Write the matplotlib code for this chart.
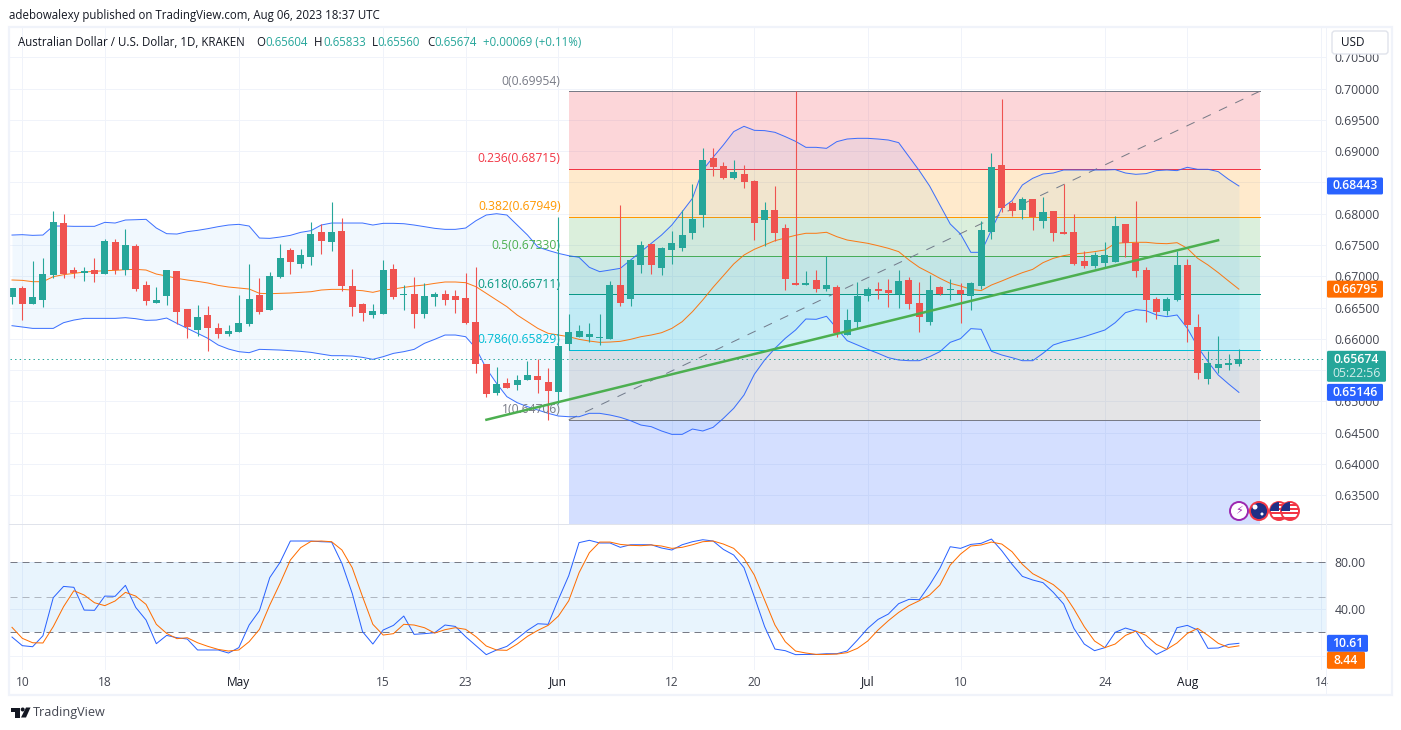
import numpy as np
import matplotlib
matplotlib.use("Agg")
import matplotlib.pyplot as plt
from matplotlib.patches import FancyBboxPatch, Rectangle, Circle, Polygon
from matplotlib.transforms import Affine2D

W, H = 1401, 730
FONT = "Open Sans"
plt.rcParams["font.family"] = [FONT, "DejaVu Sans"]

# ---------- price data ----------
opens = [
 .66669,.66813,.66557,.66621,.67020,.67851,.67100,.67058,.67100,.67036,
 .67548,.67100,.67484,.66861,.66573,.66685,.67084,.66477,.66142,.66381,
 .66174,.66078,.66110,.66238,.66701,.66461,.66988,.67420,.67196,.67308,
 .67707,.67548,.67723,.66845,.66552,.66381,.66397,.67116,.66701,.66717,
 .66397,.66669,.66717,.66685,.66653,.66270,.65599,.65135,.65295,.65263,
 .65343,.65407,.65311,.65151,.65918,.66030,.66030,.66019,.65998,.66861,
 .66637,.67180,.67516,.67132,.67420,.67452,.67692,.67979,.68890,.68762,
 .68570,.68634,.68523,.67900,.68059,.67772,.66893,.66861,.66941,.66797,
 .66829,.66062,.66270,.66685,.66797,.66781,.66712,.66941,.66574,.66270,
 .66829,.66781,.66781,.66685,.66845,.67708,.68778,.68171,.68059,.68235,
 .67884,.68043,.67708,.67708,.67244,.67165,.67213,.67229,.67836,.67532,
 .67101,.66637,.66446,.66622,.67181,.66190,.65360,.65535,.65583,.65604]
highs = [
 .66813,.66845,.67244,.67292,.68043,.67995,.67148,.67148,.67292,.67595,
 .67595,.67755,.67516,.66925,.66829,.67100,.67084,.66477,.66541,.66525,
 .66254,.66222,.66701,.67196,.66972,.67068,.67516,.67452,.67436,.67867,
 .67835,.68187,.67931,.67116,.66573,.66557,.67260,.67196,.66861,.66988,
 .66893,.66749,.66781,.66781,.67052,.67148,.65599,.65551,.65375,.65423,
 .65647,.65678,.65535,.67947,.66397,.66222,.66254,.66397,.66925,.68139,
 .67260,.67564,.67516,.67468,.67723,.68059,.68475,.69050,.69050,.68826,
 .68858,.68778,.68539,.68187,.68443,.67836,.69954,.67085,.67101,.67324,
 .66861,.66478,.66909,.66829,.66909,.66957,.67101,.66989,.66909,.67021,
 .66845,.66957,.66893,.66909,.67884,.68970,.69832,.68203,.68267,.68235,
 .68267,.68043,.68475,.67995,.67404,.67388,.67548,.67963,.67836,.68203,
 .67149,.66669,.66669,.67404,.67276,.66398,.65807,.66046,.65759,.65833]
lows = [
 .66557,.66301,.66557,.66509,.66972,.66972,.66972,.66925,.66909,.67036,
 .67036,.67020,.66765,.66541,.66568,.66541,.66238,.66014,.66046,.65806,
 .66014,.66046,.66110,.66206,.66397,.66461,.66972,.67036,.67132,.67180,
 .67356,.67404,.66765,.66365,.66286,.66333,.66397,.66637,.66461,.66174,
 .66333,.66525,.66541,.66413,.66238,.65455,.65071,.65103,.65215,.65183,
 .65343,.65135,.64704,.64960,.65822,.66030,.65950,.65902,.65998,.66525,
 .66525,.67052,.67036,.67020,.67196,.67404,.67596,.67788,.68602,.68554,
 .68554,.68411,.67580,.67484,.67564,.66781,.66861,.66861,.66749,.66765,
 .66030,.66062,.66174,.66606,.66637,.66510,.66494,.66478,.66110,.66222,
 .66701,.66622,.66254,.66462,.66797,.67596,.68027,.67963,.67915,.67740,
 .67772,.67564,.67676,.67181,.67133,.67133,.67149,.67229,.67308,.66989,
 .66270,.66318,.66382,.66606,.65951,.65360,.65280,.65455,.65503,.65560]
closes = [
 .66813,.66557,.66669,.67036,.67867,.67036,.67047,.67084,.67036,.67564,
 .67100,.67500,.66797,.66605,.66621,.67100,.66429,.66190,.66349,.66174,
 .66078,.66126,.66254,.66637,.66429,.67004,.67292,.67228,.67340,.67675,
 .67564,.67707,.66845,.66509,.66413,.66445,.67100,.66669,.66717,.66397,
 .66685,.66717,.66621,.66621,.66254,.65599,.65119,.65279,.65215,.65343,
 .65423,.65343,.65167,.65886,.66110,.66126,.66078,.66035,.66861,.66573,
 .67260,.67500,.67180,.67452,.67532,.67659,.67915,.68858,.68746,.68570,
 .68666,.68507,.67852,.68059,.67692,.66957,.66861,.66893,.66797,.66861,
 .66094,.66302,.66685,.66797,.66765,.66733,.66925,.66558,.66350,.66781,
 .66717,.66797,.66717,.66893,.67740,.68746,.68091,.68043,.68235,.67947,
 .68027,.67692,.67676,.67197,.67165,.67340,.67340,.67804,.67532,.67085,
 .66622,.66430,.66637,.67181,.66222,.65455,.65615,.65599,.65615,.65674]

bb_upper = [
 .67659,.67665,.67654,.67659,.67803,.67803,.67798,.67798,.67798,.67862,
 .67851,.67899,.67904,.67910,.67771,.67681,.67675,.67713,.67734,.67761,
 .67793,.67819,.67830,.67803,.67611,.67606,.67627,.67654,.67702,.67729,
 .67819,.67851,.67851,.67851,.67851,.67819,.67846,.67846,.67840,.67819,
 .67793,.67766,.67750,.67750,.67771,.67888,.67979,.68000,.67979,.67819,
 .67659,.67468,.67414,.67366,.67329,.67303,.67143,.67074,.67100,.67127,
 .67260,.67393,.67526,.67659,.67819,.68030,.68246,.68698,.68901,.69098,
 .69311,.69396,.69332,.69327,.69300,.69231,.69156,.69060,.69060,.69044,
 .69151,.69193,.69204,.69204,.69193,.69177,.69135,.68911,.68688,.68443,
 .68139,.67836,.67676,.67383,.67383,.67740,.68091,.68208,.68459,.68565,
 .68634,.68650,.68698,.68698,.68698,.68698,.68698,.68704,.68650,.68629,
 .68640,.68688,.68698,.68688,.68741,.68709,.68709,.68672,.68549,.68443]
bb_basis = [
 .66941,.66935,.66914,.66914,.66994,.67026,.67047,.67068,.67079,.67090,
 .67095,.67106,.67111,.67100,.67036,.67004,.66967,.66941,.66919,.66893,
 .66855,.66829,.66813,.66797,.66728,.66722,.66728,.66733,.66744,.66754,
 .66781,.66791,.66791,.66781,.66770,.66744,.66781,.66797,.66823,.66845,
 .66861,.66887,.66909,.66909,.66898,.66834,.66728,.66621,.66515,.66381,
 .66275,.66168,.66089,.66062,.66035,.65993,.65966,.65945,.65950,.65961,
 .65993,.66035,.66062,.66099,.66168,.66275,.66435,.66622,.66824,.67010,
 .67197,.67340,.67431,.67500,.67569,.67612,.67655,.67687,.67687,.67703,
 .67633,.67580,.67553,.67527,.67489,.67447,.67394,.67260,.67143,.67058,
 .66968,.66888,.66845,.66792,.66771,.66861,.66925,.66994,.67058,.67111,
 .67218,.67287,.67330,.67356,.67372,.67394,.67420,.67527,.67537,.67543,
 .67543,.67527,.67521,.67537,.67447,.67287,.67181,.67058,.66925,.66795]
bb_lower = [
 .66211,.66190,.66168,.66168,.66168,.66259,.66301,.66328,.66328,.66328,
 .66328,.66339,.66323,.66296,.66301,.66333,.66248,.66168,.66089,.66009,
 .65902,.65838,.65796,.65780,.65833,.65828,.65822,.65812,.65801,.65785,
 .65758,.65732,.65732,.65726,.65705,.65673,.65716,.65769,.65796,.65833,
 .65929,.65993,.66062,.66062,.66035,.65849,.65529,.65290,.65077,.64981,
 .64917,.64864,.64811,.64768,.64757,.64757,.64811,.64811,.64784,.64747,
 .64693,.64624,.64598,.64529,.64475,.64475,.64560,.64529,.64587,.64731,
 .64891,.65104,.65434,.65663,.65849,.66009,.66142,.66318,.66313,.66361,
 .66169,.65972,.65903,.65833,.65770,.65700,.65663,.65652,.65652,.65716,
 .65796,.65945,.66004,.66164,.66153,.65802,.65743,.65700,.65652,.65652,
 .65770,.65903,.65956,.65993,.66036,.66089,.66142,.66259,.66419,.66467,
 .66451,.66382,.66355,.66382,.66169,.65876,.65636,.65423,.65280,.65146]

stoch_k = [
 16.0,8.6,7.7,17.1,49.7,59.4,58.6,39.1,38.9,51.1,
 50.9,60.3,41.4,30.6,10.3,17.4,15.4,14.3,4.9,4.9,
 4.9,2.3,6.9,26.3,38.6,66.9,80.0,98.3,98.3,98.3,
 97.7,97.4,79.1,53.4,20.6,10.0,22.0,26.0,34.0,18.3,
 18.9,19.7,26.3,25.1,16.3,8.6,0.9,4.9,8.0,14.6,
 21.7,27.4,26.9,48.3,68.6,96.9,98.9,96.6,96.6,92.9,
 95.1,95.1,95.1,92.3,90.6,95.1,97.7,99.4,98.3,91.1,
 86.3,75.4,50.6,24.9,5.7,4.3,0.9,1.1,1.1,1.7,
 1.7,4.0,13.4,23.4,31.1,35.7,44.6,48.3,48.0,60.6,
 74.9,93.4,92.0,95.4,96.3,100.0,90.0,78.3,68.0,64.9,
 62.6,54.3,44.3,23.4,10.0,4.3,6.9,20.0,23.7,21.1,
 8.6,1.1,5.4,24.0,26.0,22.0,6.3,6.6,9.7,10.61]
stoch_d = [
 24.3,14.9,11.1,10.9,24.9,42.0,55.7,52.0,45.4,42.9,
 46.9,54.3,51.1,44.0,26.9,19.1,14.6,15.4,11.1,8.0,
 5.4,4.0,4.9,12.0,22.6,43.4,62.0,82.0,92.6,98.0,
 98.3,97.7,90.6,75.4,50.6,26.9,17.7,18.9,26.9,26.3,
 24.0,19.4,22.3,24.0,22.6,16.3,8.3,4.9,4.6,10.0,
 16.6,21.7,26.0,34.0,47.1,71.1,88.3,97.4,97.4,95.4,
 94.6,94.3,94.9,94.0,92.0,92.9,95.1,97.7,98.3,95.7,
 92.0,83.4,69.1,47.7,26.3,12.0,4.0,2.3,1.1,1.1,
 1.4,2.6,6.3,12.6,22.0,30.0,37.1,42.9,47.1,52.0,
 60.6,77.7,87.1,94.0,94.9,97.4,95.7,89.1,78.3,70.3,
 65.7,60.9,53.4,40.0,24.9,12.6,6.9,10.0,17.4,21.1,
 17.4,9.7,5.4,10.9,19.1,23.4,17.4,10.6,7.1,8.44]

fib_ratios = ["0", "0.236", "0.382", "0.5", "0.618", "0.786", "1"]
fib_prices = [0.69954, 0.68715, 0.67949, 0.67330, 0.66711, 0.65829, 0.64706, 0.61463]
fib_colors = ["#787b86", "#f23645", "#ff9800", "#4caf50", "#089981", "#00bcd4", "#787b86", "#2962ff"]
fib_start, fib_end = 54, 121
trend_x = [45.9, 117.1]
trend_y = [0.64704, 0.67580]

time_pos = [1, 9, 22, 36, 44, 53, 64, 72, 83, 92, 106, 114, 127]
time_lab = ["10", "18", "May", "15", "23", "Jun", "12", "20", "Jul", "10", "24", "Aug", "14"]
month_lab = {"May", "Jun", "Jul", "Aug"}
price_ticks = [0.70500, 0.70000, 0.69500, 0.69000, 0.68500, 0.68000, 0.67500, 0.67000,
               0.66500, 0.66000, 0.65500, 0.65000, 0.64500, 0.64000, 0.63500]

GREEN, RED, BLUE, ORANGE = "#26a69a", "#ef5350", "#2962ff", "#ff6d00"
GRID, TXT = "#f0f3fa", "#434651"
PXW = 0.72  # one pixel line in points

fig = plt.figure(figsize=(W / 100, H / 100), dpi=100, facecolor="white")
PX = Affine2D().scale(1 / W, -1 / H).translate(0, 1) + fig.transFigure


def axes_px(x0, y0, x1, y1):
    return fig.add_axes([x0 / W, 1 - y1 / H, (x1 - x0) / W, (y1 - y0) / H])


PANE_L, PANE_R = 10, 1326
ax = axes_px(PANE_L, 27, PANE_R, 524)
st = axes_px(PANE_L, 525, PANE_R, 670)
x_lim = ((PANE_L - 12) / 10.31, (PANE_R - 12) / 10.31)

idx = np.arange(len(opens))
o, h, l, c = map(np.array, (opens, highs, lows, closes))
col = np.where(c >= o, GREEN, RED)

for a in (ax, st):
    a.set_xlim(*x_lim)
    a.set_xticks(time_pos)
    a.grid(True, color=GRID, lw=PXW, zorder=0.5)
    a.set_axisbelow(True)
    for s in a.spines.values():
        s.set_visible(False)
    a.tick_params(length=0)
    a.yaxis.tick_right()
    a.set_facecolor("none")

# main pane
ax.set_ylim(0.70 - (524 - 88.5) / 6260, 0.70 + (88.5 - 27) / 6260)
ax.set_yticks(price_ticks)
ax.set_yticklabels([f"{t:.5f}" for t in price_ticks], fontsize=8.8, color=TXT)
ax.tick_params(axis="y", pad=6.3)
ax.set_xticklabels([])

for i in range(len(fib_prices) - 1):
    ax.fill_between([fib_start, fib_end], fib_prices[i], fib_prices[i + 1],
                    color=fib_colors[i + 1], alpha=0.2, lw=0, zorder=1)
for i, name in enumerate(fib_ratios):
    ax.plot([fib_start, fib_end], [fib_prices[i]] * 2, color=fib_colors[i], lw=PXW, zorder=1.5)
    ax.annotate(f"{name}({fib_prices[i]:.5f})", xy=(fib_start, fib_prices[i]),
                xytext=(-8, 10), textcoords="offset pixels", ha="right", va="center",
                color=fib_colors[i], fontsize=8.7, zorder=3.5)
ax.plot([fib_start, fib_end], [fib_prices[6], fib_prices[0]], color="#787b86",
        lw=PXW, dashes=(9, 9), zorder=1.6)

ax.fill_between(idx, bb_lower, bb_upper, color="#2196f3", alpha=0.06, lw=0, zorder=2)
ax.plot(idx, bb_upper, color=BLUE, lw=PXW, zorder=3, alpha=0.9)
ax.plot(idx, bb_lower, color=BLUE, lw=PXW, zorder=3, alpha=0.9)
ax.plot(idx, bb_basis, color=ORANGE, lw=PXW, zorder=3, alpha=0.9)

ax.vlines(idx, l, h, colors=col, lw=PXW * 1.1, zorder=4)
ax.bar(idx, np.maximum(np.abs(c - o), 0.00003), bottom=np.minimum(o, c), width=0.68,
       color=col, lw=0, zorder=4.1)
ax.axhline(closes[-1], color=GREEN, lw=PXW, dashes=(1.4, 3.2), zorder=3.2)
ax.plot(trend_x, trend_y, color="#4caf50", lw=1.8, zorder=4.5, solid_capstyle="butt")

# oscillator pane
st.set_ylim((655.7 - 670) / 1.1667, (655.7 - 525) / 1.1667)
st.set_yticks([0, 40, 80])
st.set_yticklabels(["", "40.00", "80.00"], fontsize=8.8, color=TXT)
st.tick_params(axis="y", pad=6.3)
st.axhspan(20, 80, color="#2196f3", alpha=0.1, lw=0, zorder=1)
st.axhline(80, color="#787b86", lw=PXW, dashes=(7, 5), zorder=1.5)
st.axhline(50, color="#787b86", lw=PXW, dashes=(7, 5), alpha=0.5, zorder=1.5)
st.axhline(20, color="#787b86", lw=PXW, dashes=(7, 5), zorder=1.5)
st.plot(idx, stoch_k, color=BLUE, lw=PXW, zorder=3)
st.plot(idx, stoch_d, color=ORANGE, lw=PXW, zorder=3.1)
st.set_xticklabels(time_lab, fontsize=8.6, color=TXT)
st.tick_params(axis="x", pad=4)
for t, s in zip(st.get_xticklabels(), time_lab):
    t.set_clip_on(False)
    if s in month_lab:
        t.set_color("#131722")


# chrome
def rect(x0, y0, x1, y1, fc="none", ec="none", lw=0, z=1):
    p = Rectangle((x0, y0), x1 - x0, y1 - y0, transform=PX, fc=fc, ec=ec, lw=lw, zorder=z)
    fig.add_artist(p)
    return p


rect(9, 27, 1392, 695, ec=GRID, lw=1.6, z=0.5)
rect(9, 524, 1392, 525, fc="#e0e3eb", z=5)
rect(PANE_R, 27, PANE_R + 1, 695, fc=GRID, z=5)


def tag(y_mid, text, fc, x1, hgt=17, sub=None):
    y0 = y_mid - 8.5
    y1 = y0 + (31 if sub else hgt)
    fig.add_artist(FancyBboxPatch((PANE_R + 1, y0), x1 - PANE_R - 1, y1 - y0,
                                  boxstyle="round,pad=0,rounding_size=1.5", transform=PX,
                                  fc=fc, ec="none", zorder=20))
    fig.text((PANE_R + 1 + x1) / 2, y_mid, text, transform=PX, ha="center", va="center",
             color="white", fontsize=8.8, fontweight="semibold", zorder=21)
    if sub:
        fig.text((PANE_R + 1 + x1) / 2, y_mid + 14, sub, transform=PX, ha="center", va="center",
                 color="#ffffffcc", fontsize=8.8, zorder=21)


def ypx(a, v):
    return H - a.transData.transform((0, v))[1]


tag(ypx(ax, bb_upper[-1]), f"{bb_upper[-1]:.5f}", BLUE, 1383)
tag(ypx(ax, bb_basis[-1]), f"{bb_basis[-1]:.5f}", ORANGE, 1383)
tag(ypx(ax, closes[-1]), f"{closes[-1]:.5f}", GREEN, 1386, sub="05:22:56")
tag(ypx(ax, bb_lower[-1]), f"{bb_lower[-1]:.5f}", BLUE, 1383)
tag(ypx(st, stoch_k[-1]), f"{stoch_k[-1]:.2f}", BLUE, 1368)
tag(ypx(st, stoch_k[-1]) + 17, f"{stoch_d[-1]:.2f}", ORANGE, 1365)

# header
def t(x, y, s, color=TXT, size=8.3, **kw):
    fig.text(x, y, s, transform=PX, color=color, fontsize=size, va="center", zorder=21, **kw)


t(9, 15, "adebowalexy published on TradingView.com, Aug 06, 2023 18:37 UTC", "#131722", 8.3)
t(18, 42, "Australian Dollar / U.S. Dollar, 1D, KRAKEN", "#131722", 8.3)
for x, s in [(256, "O"), (314, "H"), (372, "L"), (427, "C")]:
    t(x, 42, s, "#131722", 8.3)
for x, s in [(265, f"{opens[-1]:.5f}"), (323, f"{highs[-1]:.5f}"), (377, f"{lows[-1]:.5f}"),
             (434, f"{closes[-1]:.5f}"), (483, "+0.00069 (+0.11%)")]:
    t(x, 42, s, GREEN, 8.3)

# USD button
fig.add_artist(FancyBboxPatch((1332, 31), 56, 23, boxstyle="round,pad=0,rounding_size=3", transform=PX,
                              fc="white", ec="#e0e3eb", lw=1, zorder=20))
t(1341, 43, "USD", "#131722", 8.5)

# status icons
c1 = Circle((1239, 511), 9, transform=PX, fc="white", ec="#9c27b0", lw=1.4, zorder=20)
fig.add_artist(c1)
fig.text(1239, 511, "\u26a1", transform=PX, ha="center", va="center", color="#9c27b0", fontsize=8,
         family="DejaVu Sans", zorder=21)
c2 = Circle((1259, 511), 9, transform=PX, fc="#1f2f86", ec="#f23645", lw=1.4, zorder=20)
fig.add_artist(c2)
fig.add_artist(Circle((1255, 507), 2.5, transform=PX, fc="white", ec="none", zorder=21))
fig.add_artist(Circle((1262, 514), 1.5, transform=PX, fc="white", ec="none", zorder=21))
for cx in (1279, 1290):
    base = Circle((cx, 511), 9, transform=PX, fc="white", ec="#f23645", lw=1.4, zorder=20 + (cx - 1279) / 100)
    fig.add_artist(base)
    for k in range(4):
        s = rect(cx - 9, 503.5 + k * 4.4, cx + 9, 505.5 + k * 4.4, fc="#f23645", z=20.2 + (cx - 1279) / 100)
        s.set_clip_path(base)
    cn = rect(cx - 9, 502, cx, 511, fc="#1f2f86", z=20.3 + (cx - 1279) / 100)
    cn.set_clip_path(base)

# TradingView mark
rect(11, 707.5, 19.5, 711.5, fc="#131722", z=20)
rect(15, 707.5, 19.5, 717.5, fc="#131722", z=20)
fig.add_artist(Circle((22.7, 709.5), 2, transform=PX, fc="#131722", ec="none", zorder=20))
fig.add_artist(Polygon([(26, 707.5), (30.5, 707.5), (26, 717.5), (21, 717.5)], closed=True, transform=PX,
                       fc="#131722", ec="none", zorder=20))
t(33, 712.5, "TradingView", "#434651", 9.1)

fig.savefig("out.png", dpi=100, facecolor="white")
